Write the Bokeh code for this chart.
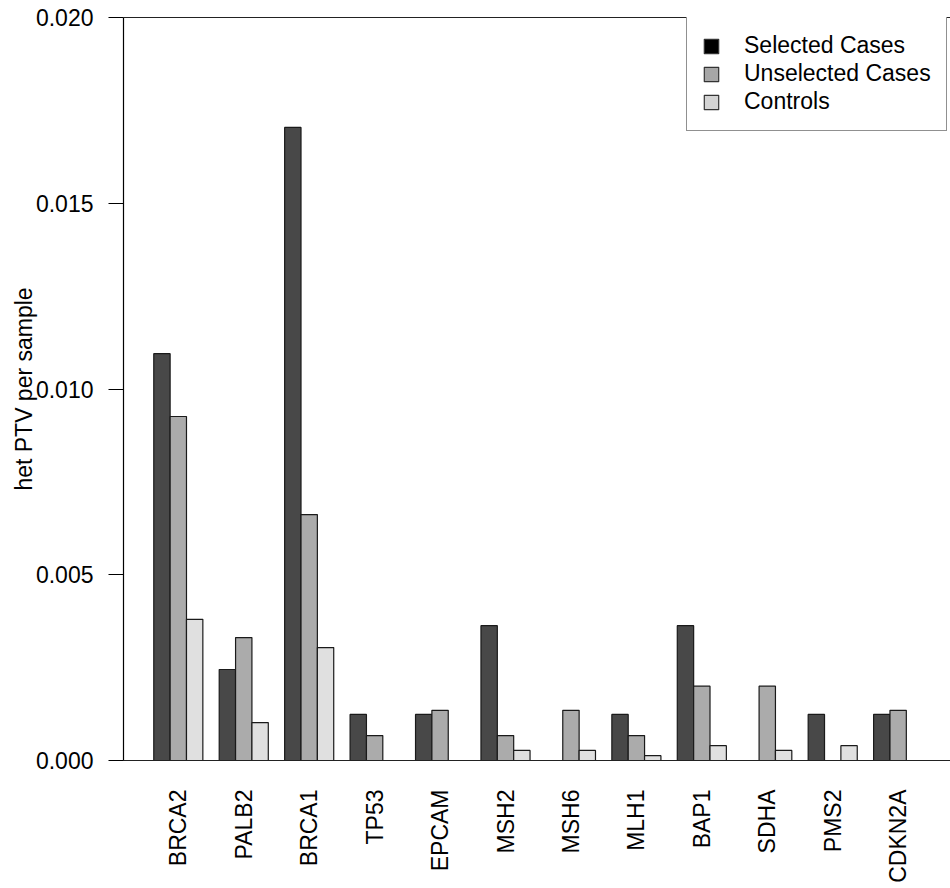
import math
from bokeh.plotting import figure
from bokeh.models import (ColumnDataSource, FixedTicker, Legend, LegendItem, Range1d, LinearAxis)
from bokeh.embed import file_html
from bokeh.resources import INLINE

# ---- data ----
genes = ["BRCA2", "PALB2", "BRCA1", "TP53", "EPCAM", "MSH2", "MSH6",
         "MLH1", "BAP1", "SDHA", "PMS2", "CDKN2A"]
selected_cases = [0.01095, 0.00245, 0.01704, 0.00124, 0.00124, 0.00363, 0.0,
                  0.00124, 0.00363, 0.0, 0.00124, 0.00124]
unselected_cases = [0.00926, 0.00331, 0.00662, 0.00067, 0.00135, 0.00067, 0.00135,
                    0.00067, 0.00200, 0.00200, 0.0, 0.00135]
controls = [0.00380, 0.00102, 0.00304, 0.0, 0.0, 0.00027, 0.00027,
            0.00013, 0.00040, 0.00027, 0.00040, 0.0]
series_names = ["Selected Cases", "Unselected Cases", "Controls"]
y_ticks = [0.0, 0.005, 0.010, 0.015, 0.020]
y_tick_labels = ["0.000", "0.005", "0.010", "0.015", "0.020"]

bar_colors = ["#484848", "#ababab", "#e0e0e0"]
legend_colors = ["#000000", "#a6a6a6", "#d3d3d3"]
FONT = "Liberation Sans"

p = figure(width=950, height=888, output_backend="svg", toolbar_location=None,
           x_range=Range1d(-0.85, 49.70), y_range=Range1d(0, 0.02),
           x_axis_location=None,
           min_border_left=123, min_border_top=17, min_border_bottom=128,
           min_border_right=0)
p.outline_line_color = None
p.grid.visible = False
p.background_fill_color = "white"

series = [selected_cases, unselected_cases, controls]
for k, vals in enumerate(series):
    xs = [4 * i + 1.5 + k for i in range(len(genes))]
    src = ColumnDataSource(dict(x=xs, top=vals))
    p.vbar(x="x", top="top", bottom=0, width=1.0, source=src,
           fill_color=bar_colors[k], line_color="#1a1a1a", line_width=1.2)

# legend-only renderers (a single zero-height bar outside the visible range)
items = []
for k, name in enumerate(series_names):
    r = p.vbar(x=[-10.0], top=[0.0], width=1.0, fill_color=legend_colors[k],
               line_color="#333333", line_width=1.2)
    items.append(LegendItem(label=name, renderers=[r]))

legend = Legend(items=items, location=(563, 629), orientation="vertical",
                padding=15, spacing=1, margin=0,
                glyph_width=18, glyph_height=18, label_height=27,
                label_standoff=24,
                label_text_font=FONT, label_text_font_size="23px",
                label_text_color="black",
                border_line_color="#222222", border_line_width=1.2,
                background_fill_color="white", background_fill_alpha=1.0)
p.add_layout(legend, "center")

# top frame line as a bare axis
top_axis = LinearAxis(ticker=FixedTicker(ticks=[]), major_tick_line_color=None,
                      minor_tick_line_color=None, major_label_text_font_size="0px",
                      axis_line_color="#222222", axis_line_width=1.2)
p.add_layout(top_axis, "above")

# y axis
ya = p.yaxis[0]
ya.ticker = FixedTicker(ticks=y_ticks)
ya.major_label_overrides = {t: l for t, l in zip(y_ticks, y_tick_labels)}
ya.minor_tick_line_color = None
ya.major_tick_out = 15
ya.major_tick_in = 0
ya.major_label_standoff = 15
ya.major_label_text_font = FONT
ya.major_label_text_font_size = "23px"
ya.major_label_text_color = "black"
ya.axis_line_color = "black"
ya.axis_line_width = 1.2
ya.major_tick_line_width = 1.2
ya.axis_label = "het PTV per sample"
ya.axis_label_text_font = FONT
ya.axis_label_text_font_size = "23px"
ya.axis_label_text_font_style = "normal"
ya.axis_label_text_color = "black"
ya.axis_label_standoff = -4

# x axis (gene names)
centers = [4 * i + 2.5 for i in range(len(genes))]
xa = LinearAxis(ticker=FixedTicker(ticks=centers))
xa.major_label_overrides = {c: g for c, g in zip(centers, genes)}
xa.minor_tick_line_color = None
xa.major_tick_line_color = None
xa.major_tick_out = 0
xa.major_tick_in = 0
xa.major_label_standoff = 29
xa.major_label_orientation = math.pi / 2
xa.major_label_text_font = FONT
xa.major_label_text_font_size = "23px"
xa.major_label_text_color = "black"
xa.axis_line_color = "#222222"
xa.axis_line_width = 1.2
p.add_layout(xa, "below")

open("out.html", "w").write(file_html(p, INLINE))
